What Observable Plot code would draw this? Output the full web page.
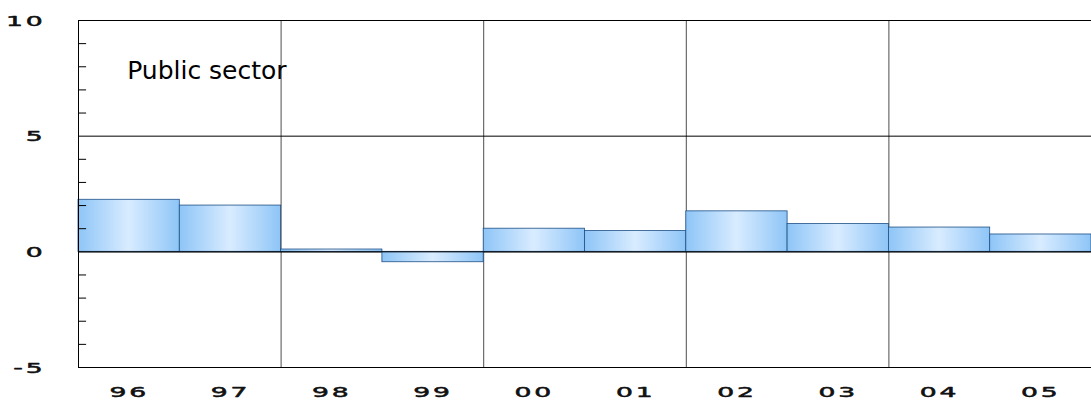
<!DOCTYPE html>
<html><head><meta charset="utf-8">
<script src="https://cdn.jsdelivr.net/npm/d3@7"></script>
<script src="https://cdn.jsdelivr.net/npm/@observablehq/plot@0.6"></script>
<style>body{margin:0;background:#fff}</style>
</head><body><div id="chart"></div>
<script>
const years = ["96","97","98","99","00","01","02","03","04","05"];
const values = [2.25, 2.0, 0.1, -0.45, 1.0, 0.9, 1.75, 1.2, 1.05, 0.75];
const yTicks = [-5, 0, 5, 10];
const minorTicks = [-4,-3,-2,-1,1,2,3,4,6,7,8,9];

const data = years.map((y, i) => ({year: y, i, value: values[i]}));

const chart = Plot.plot({
  width: 1091, height: 400,
  marginLeft: 78, marginRight: 0, marginTop: 20, marginBottom: 33,
  style: {fontFamily: "Liberation Sans, Arial, sans-serif"},
  x: {type: "linear", domain: [0, 10], axis: null},
  y: {domain: [-5, 10], axis: null},
  marks: [
    Plot.ruleY([10, 5, 0, -5], {stroke: "#000", strokeWidth: 1}),
    Plot.ruleX([2, 4, 6, 8], {stroke: "#000", strokeWidth: 0.7}),
    Plot.rectY(data, {x1: "i", x2: d => d.i + 1, y1: 0, y2: "value",
      fill: "url(#grad)", stroke: "#1d4f86", strokeWidth: 0.8}),
    Plot.ruleY([0], {stroke: "#000"}),
    Plot.ruleX([0], {stroke: "#000"}),
    Plot.ruleY(minorTicks, {x1: 0, x2: 0.08, stroke: "#000"}),
    Plot.text(yTicks, {x: 0, y: d => d, text: d => String(d), dx: -33, textAnchor: "end",
      fontSize: 14, fill: "#111", stroke: "#111", strokeWidth: 0.5, fontFamily: "DejaVu Sans", className: "lbl"}),
    Plot.text(data, {x: d => d.i + 0.5, y: -5, text: "year", dy: 24,
      fontSize: 14, fill: "#111", stroke: "#111", strokeWidth: 0.5, fontFamily: "DejaVu Sans", className: "lbl"}),
    Plot.text(["Public sector"], {x: 0.5, y: 7.8, textAnchor: "start", fontSize: 25, fill: "#000", dx: -2, fontFamily: "DejaVu Sans"})
  ]
});

const svg = d3.select(chart);
const g = svg.insert("defs", ":first-child").append("linearGradient")
  .attr("id", "grad").attr("x1", "0").attr("x2", "1").attr("y1", "0").attr("y2", "0");
g.append("stop").attr("offset", "0%").attr("stop-color", "#8ec5f7");
g.append("stop").attr("offset", "50%").attr("stop-color", "#d9ecff");
g.append("stop").attr("offset", "100%").attr("stop-color", "#8ec5f7");
// stretch the tick labels horizontally, like the original
svg.selectAll(".lbl text").each(function () {
  const t = d3.select(this);
  const x = +t.attr("x") || 0, y = (+t.attr("y") || 0) + 5, tr = t.attr("transform") || "";
  t.attr("x", null).attr("y", null)
   .attr("transform", `${tr} translate(${x},${y}) scale(1.9,1)`)
   .style("letter-spacing", "1.5px");
});

d3.select("#chart").append(() => chart);
</script></body></html>
